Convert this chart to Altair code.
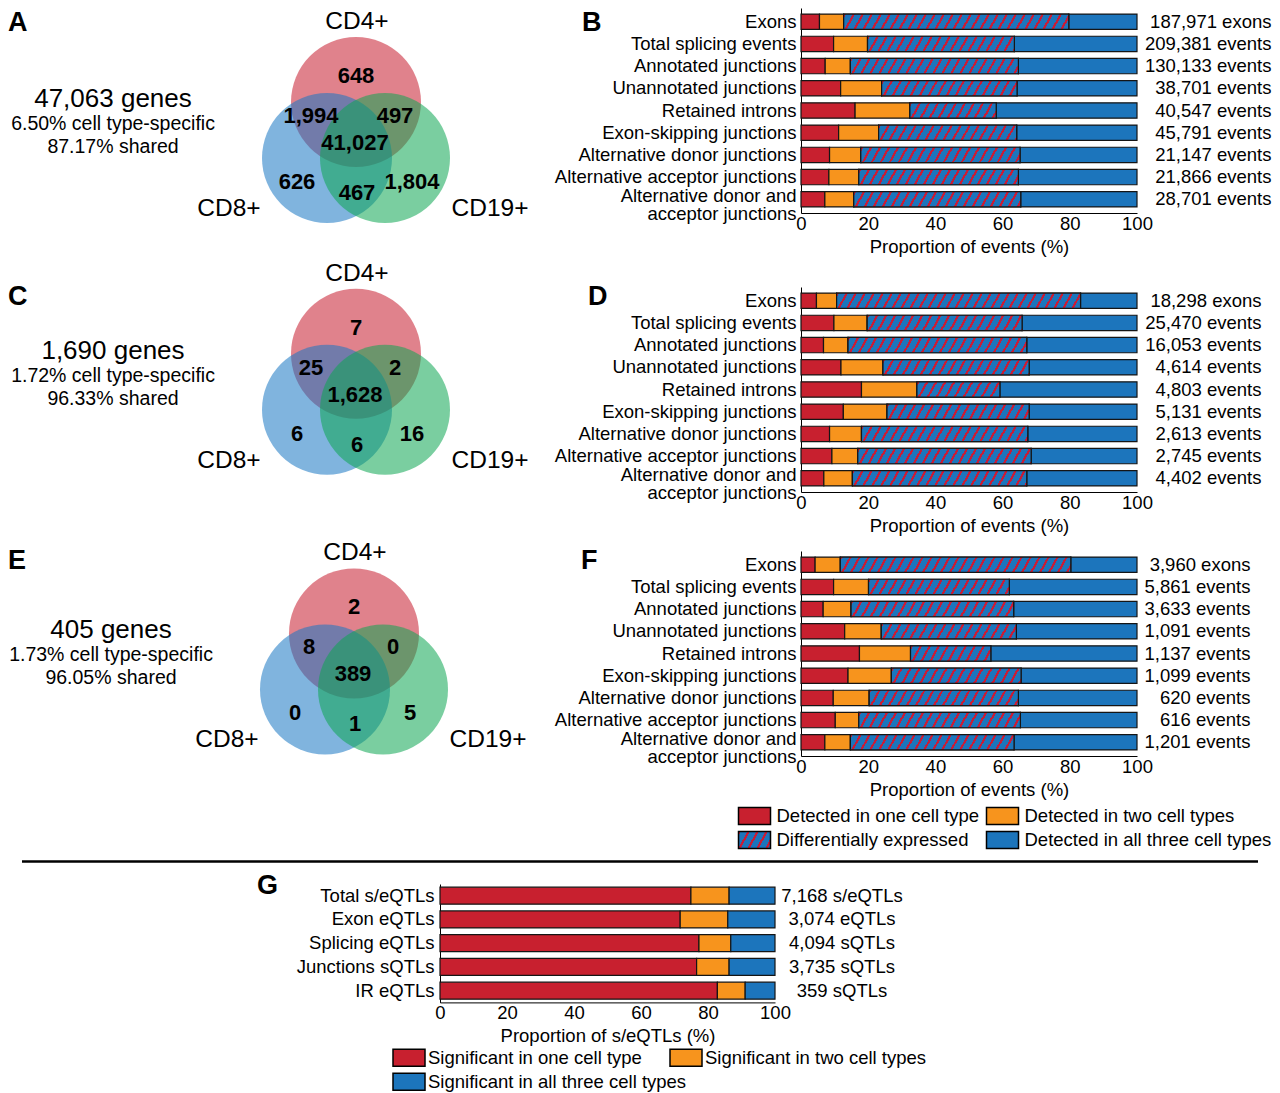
import pandas as pd
import altair as alt

FONT = "Liberation Sans"

# ------------------------------------------------------------------ data
cell_types = ["CD4+", "CD8+", "CD19+"]
venn_regions = ["CD4+ only", "CD4+ & CD8+", "CD4+ & CD19+", "All three",
                "CD8+ only", "CD8+ & CD19+", "CD19+ only"]
venn_a_counts = [648, 1994, 497, 41027, 626, 467, 1804]
venn_c_counts = [7, 25, 2, 1628, 6, 6, 16]
venn_e_counts = [2, 8, 0, 389, 0, 1, 5]
venn_a_summary = ["47,063 genes", "6.50% cell type-specific", "87.17% shared"]
venn_c_summary = ["1,690 genes", "1.72% cell type-specific", "96.33% shared"]
venn_e_summary = ["405 genes", "1.73% cell type-specific", "96.05% shared"]

event_types = ["Exons", "Total splicing events", "Annotated junctions",
               "Unannotated junctions", "Retained introns", "Exon-skipping junctions",
               "Alternative donor junctions", "Alternative acceptor junctions",
               "Alternative donor and acceptor junctions"]
segments = ["Detected in one cell type", "Detected in two cell types",
            "Differentially expressed", "Detected in all three cell types"]

# shares (%): one cell type, two cell types, differentially expressed
b_one = [5.5, 9.7, 7.2, 11.8, 16.1, 11.2, 8.5, 8.3, 7.1]
b_two = [7.2, 10.1, 7.5, 12.2, 16.3, 11.9, 9.3, 8.9, 8.6]
b_de = [67.0, 43.7, 50.0, 40.3, 25.7, 41.1, 47.4, 47.5, 49.7]
b_counts = ["187,971 exons", "209,381 events", "130,133 events", "38,701 events",
            "40,547 events", "45,791 events", "21,147 events", "21,866 events",
            "28,701 events"]

d_one = [4.6, 9.8, 6.7, 11.9, 18.0, 12.6, 8.5, 9.2, 6.8]
d_two = [6.0, 9.9, 7.3, 12.5, 16.5, 13.0, 9.5, 7.7, 8.5]
d_de = [72.6, 46.1, 53.2, 43.5, 24.7, 42.3, 49.5, 51.6, 51.9]
d_counts = ["18,298 exons", "25,470 events", "16,053 events", "4,614 events",
            "4,803 events", "5,131 events", "2,613 events", "2,745 events",
            "4,402 events"]

f_one = [4.2, 9.7, 6.6, 13.0, 17.4, 14.0, 9.6, 10.2, 7.1]
f_two = [7.5, 10.4, 8.3, 10.9, 15.2, 12.9, 10.7, 7.0, 7.6]
f_de = [68.6, 41.9, 48.4, 40.2, 23.9, 38.6, 44.4, 48.1, 48.7]
f_counts = ["3,960 exons", "5,861 events", "3,633 events", "1,091 events",
            "1,137 events", "1,099 events", "620 events", "616 events",
            "1,201 events"]

qtl_types = ["Total s/eQTLs", "Exon eQTLs", "Splicing eQTLs", "Junctions sQTLs", "IR eQTLs"]
qtl_segments = ["Significant in one cell type", "Significant in two cell types",
                "Significant in all three cell types"]
g_one = [74.9, 71.7, 77.3, 76.6, 82.8]
g_two = [11.4, 14.2, 9.5, 9.7, 8.3]
g_counts = ["7,168 s/eQTLs", "3,074 eQTLs", "4,094 sQTLs", "3,735 sQTLs", "359 sQTLs"]

# ------------------------------------------------------------------ style / layout
RED, ORANGE, BLUE, STRIPE, EDGE = "#C8202F", "#F7941D", "#1C75BC", "#C41E3A", "#151515"
venn_fill = ["#C71C2E", "#1877C3", "#0DA652"]
FS = 18.5

COL1_W, COL2_W = 432, 360.5
BAR_W, BAR_H = 336, 205
PAD_IN, PAD_OUT = 0.31, 0.272
G_W, G_H = 335, 118.4
G_PAD_IN, G_PAD_OUT = 0.284, 0.135
ROW_TOPS = [8, 286.3, 549.6, 882.3]
ROW_H = [278.3, 263.3, 332.7, 118.4]
F_ORIGIN = (800.5, 549.6)
G_ORIGIN = (440, 882.3)

CIRCLE_CENTRES = [(356, 102), (327, 158), (385, 158)]
CIRCLE_D = 130
REGION_POS = [(356, 76), (311, 116), (395, 116), (355, 143), (297, 182), (357, 193), (412, 182)]
SET_POS = [(357, 22), (229, 209), (490, 209)]
SUMMARY_POS = [(113, 99), (113, 124), (113, 147)]
SUMMARY_SIZE = [26, 19.5, 19.5]
RECT_SYMBOL = "M-1,-0.53H1V0.53H-1Z"
LONG_LABEL = "Alternative donor and acceptor junctions"

# legend swatch centres (page pixels)
F_LEGEND_POS = [(754, 814.5), (1002, 814.5), (754, 838.5), (1002, 838.5)]
G_LEGEND_POS = [(409, 1056), (686, 1056), (409, 1080)]


def hatch(w, h, period=9.0, k=0.55, frac=0.28):
    r = k * h / w
    a = 1 + r
    dt = period / (w * a * (1 + r * r))
    stops = []
    t = 0.0
    while t < 1 - 1e-9:
        t1 = min(t + frac * dt, 1.0)
        t2 = min(t + dt, 1.0)
        stops += [(t, STRIPE), (t1, STRIPE), (t1, BLUE), (t2, BLUE)]
        t += dt
    return alt.LinearGradient(
        gradient="linear", x1=0, y1=0, x2=a, y2=a * r,
        stops=[alt.GradientStop(offset=round(o, 5), color=c) for o, c in stops])


def venn_panel(counts, summary, letters, row, shift, rule=None):
    top, h = ROW_TOPS[row], ROW_H[row]
    dx, dy = shift
    X = alt.X("x:Q", scale=alt.Scale(domain=[0, COL1_W], nice=False, zero=False), axis=None)
    Y = alt.Y("y:Q", scale=alt.Scale(domain=[0, h], nice=False, zero=False, reverse=True), axis=None)

    def loc(pts):
        return [p[0] + dx - 8 for p in pts], [p[1] + dy - top for p in pts]

    cx, cy = loc(CIRCLE_CENTRES)
    circ = pd.DataFrame({"x": cx, "y": cy, "set": cell_types})
    layers = [alt.Chart(circ).mark_circle(size=CIRCLE_D ** 2, opacity=0.55).encode(
        x=X, y=Y, color=alt.Color("set:N", scale=alt.Scale(domain=cell_types, range=venn_fill), legend=None))]

    rx, ry = loc(REGION_POS)
    nums = pd.DataFrame({"x": rx, "y": ry, "region": venn_regions, "t": [f"{c:,}" for c in counts]})
    layers.append(alt.Chart(nums).mark_text(fontSize=22, fontWeight="bold", color="black").encode(
        x=X, y=Y, text="t:N"))

    sx, sy = loc(SET_POS)
    sets = pd.DataFrame({"x": sx, "y": sy, "t": cell_types})
    layers.append(alt.Chart(sets).mark_text(fontSize=24.5, color="black").encode(x=X, y=Y, text="t:N"))

    mx, my = loc(SUMMARY_POS)
    summ = pd.DataFrame({"x": mx, "y": my, "t": summary, "s": SUMMARY_SIZE})
    layers.append(alt.Chart(summ).mark_text(color="black").encode(
        x=X, y=Y, text="t:N", size=alt.Size("s:Q", scale=None)))

    # panel letters (text, left x, top y in page pixels); kept inside the page origin
    let = pd.DataFrame({"x": [max(l[1] - 8, 0) for l in letters],
                        "y": [max(l[2] - 8, 0) - (top - 8) for l in letters],
                        "t": [l[0] for l in letters]})
    layers.append(alt.Chart(let).mark_text(fontSize=27, fontWeight="bold", color="black",
                                           align="left", baseline="top").encode(
        x=X, y=Y, text="t:N"))

    if rule is not None:
        rd = pd.DataFrame({"x": [rule[0] - 8], "x2": [rule[1] - 8], "y": [rule[2] - top]})
        layers.append(alt.Chart(rd).mark_rule(strokeWidth=2.5, color="black").encode(
            x=X, x2="x2:Q", y=Y))
    return alt.layer(*layers).properties(width=COL1_W, height=h)


def x_axis(title):
    return alt.Axis(values=[0, 20, 40, 60, 80, 100], format="d", title=title, grid=False,
                    ticks=False, labelFontSize=FS, labelColor="black", labelPadding=1,
                    labelFlush=False, labelOverlap=False, domainColor="black", domainWidth=1,
                    titleFontSize=FS, titleFontWeight="normal", titleColor="black", titlePadding=5)


def y_axis(cond_offset):
    kw = dict(title=None, ticks=False, labelFontSize=FS, labelColor="black",
              labelPadding=5, labelLimit=600, labelLineHeight=18,
              domainColor="black", domainWidth=1,
              labelExpr="datum.value == '" + LONG_LABEL + "' ? "
                        "['Alternative donor and', 'acceptor junctions'] : datum.label")
    if cond_offset:
        kw["labelOffset"] = {"condition": {"test": "datum.value == '" + LONG_LABEL + "'", "value": -3},
                             "value": 0}
    return alt.Axis(**kw)


def legend_layers(labels, fills, centres, origin, gap):
    """Swatch + label for each legend entry, placed in the panel's own pixel frame."""
    out = []
    one = pd.DataFrame({"v": [0]})
    for lab, fill, (cx, cy) in zip(labels, fills, centres):
        px, py = cx - origin[0], cy - origin[1]
        out.append(alt.Chart(one).mark_point(shape=RECT_SYMBOL, size=1024, filled=True, fill=fill,
                                            stroke="black", strokeWidth=1.5, opacity=1).encode(
            x=alt.value(px), y=alt.value(py)))
        out.append(alt.Chart(one).mark_text(text=lab, align="left", baseline="middle",
                                            fontSize=FS, color="black").encode(
            x=alt.value(px + 16 + gap), y=alt.value(py)))
    return out


def bar_panel(one, two, de, counts, label_x, with_legend, cond_offset):
    px = BAR_W / 100.0
    step = BAR_H / (len(event_types) - PAD_IN + 2 * PAD_OUT)
    bw = step * (1 - PAD_IN)
    rows = []
    for i, c in enumerate(event_types):
        vals = [one[i], two[i], de[i], 100 - one[i] - two[i] - de[i]]
        s = 0.0
        for seg, v in zip(segments, vals):
            rows.append({"cat": c, "seg": seg, "start": s, "end": s + v})
            s += v
    df = pd.DataFrame(rows)
    X = alt.X("start:Q", scale=alt.Scale(domain=[0, 100], nice=False, zero=False),
              axis=x_axis("Proportion of events (%)"))
    Y = alt.Y("cat:N", scale=alt.Scale(domain=event_types, paddingInner=PAD_IN, paddingOuter=PAD_OUT),
              axis=y_axis(cond_offset))
    base = alt.Chart(df).mark_bar(stroke=EDGE, strokeWidth=1.2).encode(
        x=X, x2="end:Q", y=Y,
        color=alt.Color("seg:N", scale=alt.Scale(domain=segments, range=[RED, ORANGE, BLUE, BLUE]),
                        legend=None))
    layers = [base]
    for i, c in enumerate(event_types):
        st = one[i] + two[i]
        sub = pd.DataFrame({"cat": [c], "start": [st], "end": [st + de[i]]})
        layers.append(alt.Chart(sub).mark_bar(fill=hatch(de[i] * px, bw), stroke=EDGE, strokeWidth=1.2)
                      .encode(x=X, x2="end:Q", y=Y))
    lab = pd.DataFrame({"cat": event_types, "lab": counts})
    layers.append(alt.Chart(lab).mark_text(align="right", fontSize=FS, color="black").encode(
        x=alt.value(label_x), y=Y, text="lab:N"))
    if with_legend:
        layers += legend_layers(segments, [RED, ORANGE, hatch(32, 17), BLUE], F_LEGEND_POS, F_ORIGIN, 6)
    return alt.layer(*layers).properties(width=BAR_W, height=BAR_H)


def qtl_panel():
    rows = []
    for i, c in enumerate(qtl_types):
        vals = [g_one[i], g_two[i], 100 - g_one[i] - g_two[i]]
        s = 0.0
        for seg, v in zip(qtl_segments, vals):
            rows.append({"cat": c, "seg": seg, "start": s, "end": s + v})
            s += v
    df = pd.DataFrame(rows)
    X = alt.X("start:Q", scale=alt.Scale(domain=[0, 100], nice=False, zero=False),
              axis=x_axis("Proportion of s/eQTLs (%)"))
    Y = alt.Y("cat:N", scale=alt.Scale(domain=qtl_types, paddingInner=G_PAD_IN, paddingOuter=G_PAD_OUT),
              axis=alt.Axis(title=None, ticks=False, labelFontSize=FS, labelColor="black",
                            labelPadding=6, labelLimit=600, domainColor="black", domainWidth=1))
    base = alt.Chart(df).mark_bar(stroke=EDGE, strokeWidth=1.2).encode(
        x=X, x2="end:Q", y=Y,
        color=alt.Color("seg:N", scale=alt.Scale(domain=qtl_segments, range=[RED, ORANGE, BLUE]), legend=None))
    lab = pd.DataFrame({"cat": qtl_types, "lab": g_counts})
    txt = alt.Chart(lab).mark_text(align="center", fontSize=FS, color="black").encode(
        x=alt.value(402), y=Y, text="lab:N")
    leg = legend_layers(qtl_segments, [RED, ORANGE, BLUE], G_LEGEND_POS, G_ORIGIN, 3)
    return alt.layer(base, txt, *leg).properties(width=G_W, height=G_H)


def placeholder():
    return alt.Chart(pd.DataFrame({"v": [0]})).mark_point(opacity=0, size=1).encode(
        x=alt.value(20), y=alt.value(20)).properties(width=COL2_W, height=1)


def build(cond_offset):
    vA = venn_panel(venn_a_counts, venn_a_summary, [("A", 4, 10), ("B", 582, 10)], 0, (0, 0))
    vC = venn_panel(venn_c_counts, venn_c_summary, [("C", 4, 282.8), ("D", 588, 282.8)], 1, (0, 251))
    vE = venn_panel(venn_e_counts, venn_e_summary, [("E", 4, 546.3), ("F", 581, 546.3)], 2, (-2, 530),
                    rule=(22, 1258, 860))
    gdf = pd.DataFrame({"x": [249], "y": [-11], "t": ["G"]})
    gLeft = alt.Chart(gdf).mark_text(fontSize=27, fontWeight="bold", color="black",
                                     align="left", baseline="top").encode(
        x=alt.X("x:Q", scale=alt.Scale(domain=[0, COL1_W], nice=False, zero=False), axis=None),
        y=alt.Y("y:Q", scale=alt.Scale(domain=[0, G_H], nice=False, zero=False, reverse=True), axis=None),
        text="t:N").properties(width=COL1_W, height=G_H)
    B = bar_panel(b_one, b_two, b_de, b_counts, 470.5, False, cond_offset)
    D = bar_panel(d_one, d_two, d_de, d_counts, 460.5, False, cond_offset)
    F = bar_panel(f_one, f_two, f_de, f_counts, 449.5, True, cond_offset)
    G = qtl_panel()
    return alt.concat(vA, placeholder(), B, vC, placeholder(), D, vE, placeholder(), F, gLeft, G,
                      columns=3, spacing=0, bounds="flush", align="each").resolve_scale(
        color="independent").properties(padding=0).configure(font=FONT).configure_view(strokeWidth=0)


chart = None
for cond in (True, False):
    try:
        c = build(cond)
        c.to_dict()
        chart = c
        print("cond offset", cond)
        break
    except Exception as e:
        print("cond", cond, "failed:", str(e)[:200])

chart.save("out.html", embed_options={"renderer": "svg", "actions": False})
